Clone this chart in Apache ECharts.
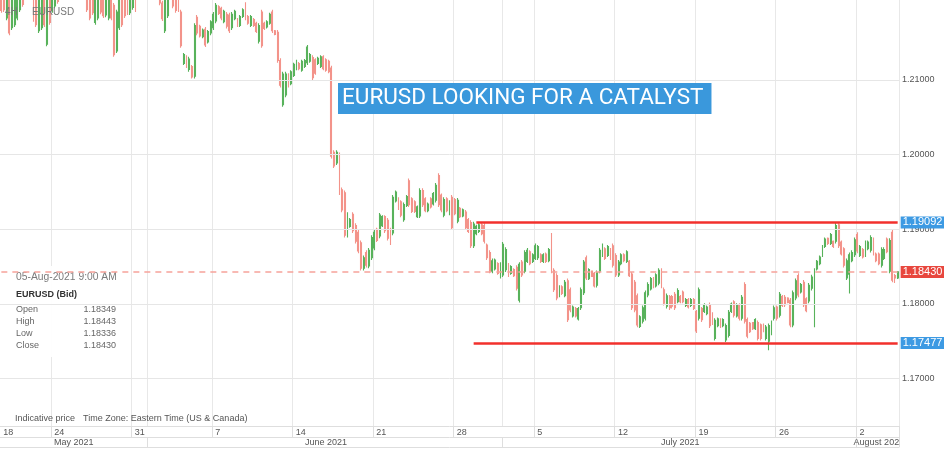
<!DOCTYPE html>
<html><head><meta charset="utf-8">
<script src="https://cdn.jsdelivr.net/npm/echarts@6/dist/echarts.min.js"></script>
<style>html,body{margin:0;padding:0;background:#fff}#c{width:944px;height:452px}</style>
</head><body><div id="c"></div>
<script>
// ---------------- data ----------------
const symbolName = 'EURUSD';
const timeframe = '4H';
const chartTitle = 'EURUSD LOOKING FOR A CATALYST';
const firstBarTime = [2021, 4, 18, 13];   // Tue 18 May 2021 13:00 (Eastern)
const barHours = 4;
const yTicks = [1.17, 1.18, 1.19, 1.20, 1.21];
const yRange = [1.16366, 1.22071];
const resistanceLevel = 1.19092;
const supportLevel = 1.17477;
const lastPrice = 1.18430;
const resistanceFrom = '2021-06-29 01:00';
const supportFrom = '2021-06-28 21:00';
const infoTime = '05-Aug-2021 9:00 AM';
const infoTitle = 'EURUSD (Bid)';
const infoNames = ['Open', 'High', 'Low', 'Close'];
const infoValues = ['1.18349', '1.18443', '1.18336', '1.18430'];
const footNote = ['Indicative price', 'Time Zone: Eastern Time (US & Canada)'];
const monthNames = ['January','February','March','April','May','June','July','August','September','October','November','December'];

// [open, close, low, high]
const bars = [
[1.2244,1.2193,1.2190,1.2247],[1.2231,1.2194,1.2191,1.2234],[1.2183,1.2244,1.2180,1.2247],[1.2231,1.2163,1.2160,1.2234],
[1.2170,1.2238,1.2167,1.2241],[1.2174,1.2231,1.2171,1.2234],[1.2183,1.2244,1.2180,1.2247],[1.2194,1.2251,1.2191,1.2254],
[1.2244,1.2201,1.2198,1.2247],[1.2217,1.2258,1.2214,1.2261],[1.2264,1.2223,1.2220,1.2267],[1.2221,1.2258,1.2218,1.2261],
[1.2238,1.2181,1.2178,1.2241],[1.2231,1.2174,1.2171,1.2234],[1.2166,1.2224,1.2163,1.2227],[1.2170,1.2231,1.2167,1.2234],
[1.2217,1.2174,1.2171,1.2220],[1.2148,1.2211,1.2145,1.2214],[1.2224,1.2177,1.2174,1.2227],[1.2193,1.2231,1.2190,1.2234],
[1.2199,1.2244,1.2196,1.2247],[1.2251,1.2205,1.2202,1.2254],[1.2214,1.2258,1.2211,1.2261],[1.2221,1.2264,1.2218,1.2267],
[1.2271,1.2226,1.2223,1.2274],[1.2223,1.2264,1.2220,1.2267],[1.2230,1.2271,1.2227,1.2274],[1.2278,1.2226,1.2223,1.2281],
[1.2271,1.2221,1.2218,1.2274],[1.2223,1.2264,1.2220,1.2267],[1.2258,1.2217,1.2214,1.2261],[1.2251,1.2213,1.2210,1.2254],
[1.2238,1.2194,1.2191,1.2241],[1.2231,1.2183,1.2180,1.2234],[1.2231,1.2190,1.2187,1.2234],[1.2177,1.2217,1.2174,1.2220],
[1.2183,1.2224,1.2180,1.2227],[1.2231,1.2191,1.2188,1.2234],[1.2224,1.2186,1.2183,1.2227],[1.2187,1.2231,1.2184,1.2234],
[1.2183,1.2231,1.2180,1.2234],[1.2217,1.2183,1.2180,1.2220],[1.2200,1.2134,1.2131,1.2203],[1.2139,1.2191,1.2136,1.2194],
[1.2170,1.2217,1.2167,1.2220],[1.2224,1.2174,1.2171,1.2227],[1.2231,1.2186,1.2183,1.2234],[1.2224,1.2190,1.2187,1.2227],
[1.2190,1.2231,1.2187,1.2234],[1.2197,1.2238,1.2194,1.2241],[1.2238,1.2194,1.2191,1.2241],[1.2214,1.2244,1.2211,1.2247],
[1.2221,1.2251,1.2218,1.2254],[1.2258,1.2223,1.2220,1.2261],[1.2226,1.2264,1.2223,1.2267],[1.2223,1.2264,1.2220,1.2267],
[1.2258,1.2221,1.2218,1.2261],[1.2217,1.2258,1.2214,1.2261],[1.2251,1.2213,1.2210,1.2254],[1.2238,1.2203,1.2200,1.2241],
[1.2203,1.2182,1.2179,1.2206],[1.2166,1.2217,1.2163,1.2220],[1.2186,1.2224,1.2183,1.2227],[1.2231,1.2213,1.2210,1.2234],
[1.2217,1.2199,1.2196,1.2220],[1.2211,1.2193,1.2190,1.2214],[1.2208,1.2194,1.2191,1.2211],[1.2191,1.2146,1.2143,1.2194],
[1.2122,1.2134,1.2120,1.2136],[1.2131,1.2118,1.2116,1.2133],[1.2114,1.2128,1.2111,1.2131],[1.2118,1.2104,1.2102,1.2120],
[1.2105,1.2173,1.2102,1.2176],
[1.2184,1.2163,1.2160,1.2187],[1.2172,1.2159,1.2157,1.2174],[1.2158,1.2167,1.2156,1.2169],[1.2168,1.2147,1.2144,1.2171],
[1.2151,1.2165,1.2149,1.2167],[1.2163,1.2178,1.2160,1.2180],[1.2170,1.2188,1.2167,1.2191],[1.2179,1.2200,1.2176,1.2203],
[1.2198,1.2189,1.2187,1.2200],[1.2196,1.2183,1.2180,1.2198],[1.2178,1.2192,1.2176,1.2194],[1.2188,1.2172,1.2169,1.2191],
[1.2187,1.2166,1.2163,1.2190],[1.2170,1.2188,1.2167,1.2191],[1.2182,1.2192,1.2180,1.2194],[1.2181,1.2173,1.2171,1.2183],
[1.2173,1.2185,1.2171,1.2187],[1.2185,1.2194,1.2183,1.2196],[1.2201,1.2183,1.2180,1.2204],[1.2185,1.2176,1.2174,1.2187],
[1.2173,1.2185,1.2171,1.2187],[1.2181,1.2173,1.2171,1.2183],[1.2176,1.2165,1.2163,1.2178],[1.2152,1.2173,1.2149,1.2176],
[1.2191,1.2146,1.2143,1.2194],[1.2176,1.2169,1.2167,1.2178],[1.2171,1.2178,1.2169,1.2180],[1.2176,1.2188,1.2174,1.2190],
[1.2191,1.2166,1.2163,1.2194],[1.2166,1.2161,1.2160,1.2167],[1.2164,1.2126,1.2123,1.2167],[1.2126,1.2093,1.2090,1.2129],
[1.2067,1.2108,1.2064,1.2111],[1.2080,1.2108,1.2077,1.2111],[1.2107,1.2092,1.2090,1.2109],[1.2095,1.2111,1.2093,1.2113],
[1.2106,1.2121,1.2104,1.2123],[1.2115,1.2125,1.2113,1.2127],[1.2122,1.2115,1.2113,1.2124],[1.2113,1.2125,1.2111,1.2127],
[1.2118,1.2126,1.2116,1.2128],[1.2123,1.2144,1.2120,1.2147],[1.2125,1.2134,1.2123,1.2136],[1.2130,1.2103,1.2100,1.2133],
[1.2127,1.2109,1.2107,1.2129],[1.2122,1.2129,1.2120,1.2131],[1.2118,1.2131,1.2116,1.2133],[1.2131,1.2115,1.2113,1.2133],
[1.2127,1.2113,1.2111,1.2129],[1.2125,1.2111,1.2109,1.2127],
[1.2116,1.1998,1.1995,1.2119],[1.2003,1.1985,1.1982,1.2006],[1.1989,1.2003,1.1986,1.2006],[1.2000,1.1949,1.1946,1.2003],
[1.1953,1.1926,1.1923,1.1956],[1.1949,1.1892,1.1889,1.1952],[1.1892,1.1920,1.1889,1.1923],[1.1904,1.1913,1.1902,1.1915],
[1.1920,1.1898,1.1895,1.1923],[1.1905,1.1884,1.1881,1.1908],[1.1896,1.1871,1.1868,1.1899],[1.1882,1.1848,1.1845,1.1885],
[1.1848,1.1862,1.1845,1.1865],[1.1869,1.1852,1.1849,1.1872],[1.1851,1.1872,1.1848,1.1875],[1.1862,1.1889,1.1859,1.1892],
[1.1875,1.1896,1.1872,1.1899],[1.1900,1.1885,1.1883,1.1902],[1.1891,1.1919,1.1888,1.1922],[1.1905,1.1917,1.1903,1.1919],
[1.1917,1.1898,1.1895,1.1919],[1.1912,1.1888,1.1885,1.1915],[1.1900,1.1882,1.1879,1.1902],[1.1895,1.1943,1.1892,1.1946],
[1.1938,1.1950,1.1936,1.1952],[1.1941,1.1928,1.1926,1.1943],[1.1937,1.1919,1.1916,1.1939],[1.1913,1.1933,1.1910,1.1936],
[1.1932,1.1944,1.1930,1.1946],[1.1965,1.1933,1.1930,1.1968],[1.1941,1.1924,1.1922,1.1943],[1.1937,1.1924,1.1922,1.1939],
[1.1917,1.1930,1.1915,1.1932],[1.1918,1.1952,1.1915,1.1955],[1.1952,1.1933,1.1930,1.1955],[1.1941,1.1925,1.1923,1.1943],
[1.1925,1.1934,1.1923,1.1936],[1.1941,1.1930,1.1928,1.1943],[1.1934,1.1948,1.1932,1.1950],[1.1939,1.1959,1.1936,1.1962],
[1.1972,1.1933,1.1930,1.1975],[1.1946,1.1926,1.1923,1.1948],[1.1919,1.1940,1.1916,1.1943],[1.1941,1.1925,1.1923,1.1943],
[1.1921,1.1937,1.1919,1.1939],[1.1943,1.1902,1.1899,1.1946],[1.1940,1.1921,1.1919,1.1942],
[1.1911,1.1939,1.1908,1.1942],[1.1928,1.1917,1.1915,1.1930],[1.1918,1.1926,1.1916,1.1928],[1.1923,1.1902,1.1899,1.1926],
[1.1913,1.1897,1.1895,1.1915],[1.1909,1.1878,1.1875,1.1912],[1.1878,1.1907,1.1875,1.1910],[1.1894,1.1904,1.1892,1.1906],
[1.1897,1.1906,1.1895,1.1908],[1.1906,1.1894,1.1892,1.1908],[1.1905,1.1884,1.1881,1.1908],[1.1879,1.1862,1.1859,1.1881],
[1.1869,1.1844,1.1841,1.1872],[1.1844,1.1858,1.1841,1.1861],[1.1847,1.1859,1.1845,1.1861],[1.1854,1.1841,1.1839,1.1856],
[1.1837,1.1853,1.1834,1.1856],[1.1839,1.1880,1.1836,1.1883],[1.1846,1.1873,1.1843,1.1876],[1.1853,1.1838,1.1836,1.1855],
[1.1841,1.1850,1.1839,1.1852],[1.1846,1.1838,1.1836,1.1848],[1.1849,1.1821,1.1818,1.1852],[1.1805,1.1853,1.1802,1.1856],
[1.1856,1.1839,1.1836,1.1859],[1.1844,1.1869,1.1841,1.1872],[1.1857,1.1872,1.1855,1.1875],[1.1870,1.1854,1.1852,1.1872],
[1.1857,1.1866,1.1855,1.1868],[1.1861,1.1878,1.1859,1.1881],[1.1862,1.1877,1.1859,1.1879],[1.1866,1.1857,1.1855,1.1868],
[1.1857,1.1866,1.1855,1.1868],[1.1867,1.1857,1.1855,1.1869],[1.1858,1.1873,1.1856,1.1875],[1.1892,1.1844,1.1841,1.1895],
[1.1845,1.1819,1.1816,1.1848],[1.1838,1.1808,1.1805,1.1841],[1.1811,1.1823,1.1809,1.1825],[1.1823,1.1814,1.1812,1.1825],
[1.1811,1.1829,1.1809,1.1832],[1.1831,1.1779,1.1776,1.1834],[1.1819,1.1792,1.1789,1.1822],[1.1784,1.1796,1.1782,1.1798],
[1.1794,1.1784,1.1782,1.1796],[1.1780,1.1794,1.1778,1.1796],[1.1795,1.1819,1.1792,1.1822],[1.1815,1.1856,1.1812,1.1859],
[1.1862,1.1835,1.1832,1.1865],[1.1834,1.1846,1.1832,1.1848],[1.1844,1.1837,1.1836,1.1845],[1.1841,1.1824,1.1822,1.1843],
[1.1825,1.1842,1.1822,1.1845],[1.1844,1.1872,1.1841,1.1875],[1.1865,1.1879,1.1863,1.1881],[1.1874,1.1861,1.1859,1.1876],
[1.1865,1.1877,1.1863,1.1879],[1.1873,1.1861,1.1859,1.1875],[1.1878,1.1852,1.1849,1.1881],[1.1865,1.1839,1.1836,1.1868],
[1.1839,1.1856,1.1836,1.1859],[1.1854,1.1866,1.1852,1.1868],[1.1866,1.1858,1.1856,1.1868],[1.1857,1.1870,1.1855,1.1872],
[1.1857,1.1838,1.1836,1.1859],[1.1840,1.1795,1.1792,1.1843],[1.1829,1.1792,1.1789,1.1832],[1.1811,1.1772,1.1769,1.1814],
[1.1770,1.1783,1.1768,1.1785],[1.1777,1.1795,1.1774,1.1798],[1.1781,1.1815,1.1778,1.1818],[1.1812,1.1826,1.1809,1.1829],
[1.1820,1.1834,1.1818,1.1836],[1.1834,1.1823,1.1821,1.1836],[1.1824,1.1839,1.1822,1.1841],[1.1828,1.1845,1.1825,1.1848],
[1.1845,1.1824,1.1821,1.1848],[1.1819,1.1801,1.1798,1.1822],[1.1797,1.1811,1.1794,1.1814],[1.1810,1.1795,1.1792,1.1812],
[1.1810,1.1797,1.1794,1.1812],[1.1813,1.1795,1.1792,1.1816],[1.1803,1.1818,1.1801,1.1821],[1.1810,1.1803,1.1801,1.1812],
[1.1816,1.1803,1.1801,1.1818],[1.1798,1.1806,1.1796,1.1808],[1.1806,1.1796,1.1794,1.1808],[1.1798,1.1806,1.1796,1.1808],
[1.1806,1.1794,1.1792,1.1808],[1.1790,1.1764,1.1761,1.1792],[1.1781,1.1819,1.1778,1.1822],[1.1794,1.1779,1.1776,1.1796],
[1.1790,1.1799,1.1788,1.1801],[1.1787,1.1796,1.1785,1.1798],[1.1799,1.1771,1.1768,1.1802],[1.1787,1.1774,1.1772,1.1789],
[1.1754,1.1778,1.1751,1.1781],[1.1771,1.1780,1.1769,1.1782],[1.1779,1.1770,1.1768,1.1781],[1.1771,1.1779,1.1769,1.1781],
[1.1752,1.1771,1.1749,1.1774],[1.1758,1.1789,1.1755,1.1792],[1.1790,1.1800,1.1788,1.1802],[1.1803,1.1785,1.1782,1.1805],
[1.1784,1.1799,1.1782,1.1801],[1.1799,1.1781,1.1778,1.1801],[1.1781,1.1809,1.1778,1.1812],[1.1826,1.1777,1.1774,1.1829],
[1.1779,1.1757,1.1754,1.1782],[1.1774,1.1763,1.1761,1.1776],[1.1775,1.1767,1.1765,1.1776],[1.1767,1.1779,1.1765,1.1781],
[1.1775,1.1754,1.1751,1.1778],[1.1772,1.1754,1.1751,1.1774],[1.1772,1.1764,1.1762,1.1774],[1.1754,1.1769,1.1751,1.1772],
[1.1750,1.1771,1.1738,1.1774],[1.1761,1.1776,1.1758,1.1778],[1.1781,1.1795,1.1778,1.1798],[1.1796,1.1781,1.1778,1.1798],
[1.1785,1.1813,1.1782,1.1816],
[1.1810,1.1798,1.1796,1.1812],[1.1809,1.1799,1.1796,1.1812],[1.1808,1.1802,1.1801,1.1809],[1.1805,1.1772,1.1769,1.1808],
[1.1772,1.1815,1.1769,1.1818],[1.1808,1.1831,1.1805,1.1834],[1.1838,1.1812,1.1809,1.1841],[1.1816,1.1826,1.1814,1.1828],
[1.1829,1.1799,1.1796,1.1832],[1.1807,1.1791,1.1789,1.1809],[1.1804,1.1825,1.1801,1.1828],[1.1821,1.1836,1.1818,1.1839],
[1.1772,1.1845,1.1769,1.1848],[1.1847,1.1857,1.1845,1.1859],[1.1854,1.1863,1.1852,1.1865],[1.1865,1.1877,1.1863,1.1879],
[1.1877,1.1887,1.1875,1.1889],[1.1888,1.1881,1.1879,1.1889],[1.1881,1.1893,1.1879,1.1895],[1.1884,1.1877,1.1875,1.1885],
[1.1884,1.1905,1.1881,1.1909],[1.1906,1.1878,1.1875,1.1908],[1.1883,1.1867,1.1865,1.1885],[1.1874,1.1852,1.1849,1.1876],
[1.1835,1.1858,1.1832,1.1861],[1.1840,1.1866,1.1814,1.1869],[1.1858,1.1869,1.1856,1.1872],[1.1866,1.1886,1.1863,1.1889],
[1.1893,1.1871,1.1868,1.1896],[1.1865,1.1877,1.1863,1.1879],[1.1873,1.1863,1.1861,1.1875],[1.1866,1.1882,1.1863,1.1885],
[1.1874,1.1883,1.1872,1.1885],[1.1872,1.1889,1.1869,1.1892],[1.1887,1.1868,1.1865,1.1889],[1.1867,1.1858,1.1856,1.1869],
[1.1867,1.1854,1.1852,1.1869],[1.1852,1.1873,1.1849,1.1876],[1.1861,1.1873,1.1859,1.1876],[1.1887,1.1870,1.1868,1.1889],
[1.1844,1.1885,1.1841,1.1888],[1.1896,1.1832,1.1829,1.1899],[1.1838,1.1835,1.1828,1.1840],[1.18349,1.18430,1.18336,1.18443]
];

// ---------------- derived time categories ----------------
const UP = '#58b25b', DOWN = '#f3938a';
const FONT = '"Liberation Sans", Arial, Helvetica, sans-serif';
const pad = n => String(n).padStart(2, '0');
function barTimes(n) {
  const out = [];
  let t = Date.UTC(firstBarTime[0], firstBarTime[1], firstBarTime[2], firstBarTime[3]);
  while (out.length < n) {
    const d = new Date(t), wd = d.getUTCDay(), h = d.getUTCHours();
    const closed = (wd === 5 && h >= 17) || wd === 6 || (wd === 0 && h < 17);
    if (!closed) out.push(t);
    t += barHours * 3600e3;
  }
  return out;
}
const times = barTimes(bars.length);
const categories = times.map(t => { const d = new Date(t); return d.getUTCFullYear() + '-' + pad(d.getUTCMonth() + 1) + '-' + pad(d.getUTCDate()) + ' ' + pad(d.getUTCHours()) + ':00'; });
const sessions = times.map(t => new Date(t + 7 * 3600e3)); // trading day begins 17:00 ET
const isWeekStart = i => i > 0 && sessions[i].getUTCDay() === 1 && sessions[i - 1].getUTCDay() !== 1;
const isMonthStart = i => i > 0 && sessions[i].getUTCMonth() !== sessions[i - 1].getUTCMonth();
const monthCenters = {};
(function () {
  let s = 0;
  for (let i = 1; i <= sessions.length; i++) {
    if (i === sessions.length || isMonthStart(i)) {
      const c = Math.round((s + i - 1) / 2);
      const d = sessions[s];
      monthCenters[c] = monthNames[d.getUTCMonth()] + ' ' + d.getUTCFullYear();
      s = i;
    }
  }
})();
const lastCat = categories[categories.length - 1];
const axisGray = '#dedede';

const levelLabel = (bg) => ({
  show: true, position: 'end', distance: 3, formatter: p => p.value.toFixed(5),
  backgroundColor: bg, color: '#fff', fontSize: 11, fontFamily: FONT, padding: [1, 2, 0, 2], lineHeight: 11
});

const chart = echarts.init(document.getElementById('c'), null, { renderer: 'canvas' });
chart.setOption({
  animation: false,
  backgroundColor: '#fff',
  title: {
    text: chartTitle, left: 338, top: 83, padding: [4, 8, 4, 4], backgroundColor: '#3a98dc',
    textStyle: { color: '#fff', fontSize: 22.5, fontWeight: 'normal', fontFamily: 'Roboto', lineHeight: 23 }
  },
  grid: { left: 0, right: 45, top: 0, bottom: 26, containLabel: false, outerBoundsMode: 'none' },
  xAxis: [
    {
      type: 'category', data: categories, position: 'bottom', boundaryGap: true,
      axisLine: { show: true, lineStyle: { color: axisGray } },
      axisTick: { show: true, interval: i => isWeekStart(i), length: 11, lineStyle: { color: axisGray } },
      axisLabel: {
        interval: i => i === 0 || isWeekStart(i), formatter: (v, i) => String(sessions[i].getUTCDate()),
        align: 'left', margin: 2, padding: [0, 0, 0, 2], color: '#555', fontSize: 9, fontFamily: FONT
      },
      splitLine: { show: true, interval: i => isWeekStart(i) || isMonthStart(i), lineStyle: { color: '#e8e8e8', width: 1 } }
    },
    {
      type: 'category', data: categories, position: 'bottom', offset: 11, boundaryGap: true,
      axisLine: { show: true, lineStyle: { color: axisGray } },
      axisTick: { show: true, interval: i => isMonthStart(i), length: 10, lineStyle: { color: axisGray } },
      axisLabel: {
        interval: i => monthCenters[i] !== undefined, formatter: (v, i) => monthCenters[i] || '',
        margin: 1, color: '#555', fontSize: 9, fontFamily: FONT
      },
      splitLine: { show: false }
    },
    {
      type: 'category', data: categories, position: 'bottom', offset: 21, boundaryGap: true,
      axisLine: { show: true, lineStyle: { color: axisGray } },
      axisTick: { show: false }, axisLabel: { show: false }, splitLine: { show: false }
    }
  ],
  yAxis: {
    type: 'value', position: 'right', scale: true, min: yRange[0], max: yRange[1],
    axisLine: { show: false }, axisTick: { show: false }, splitLine: { show: false },
    axisLabel: { customValues: yTicks, formatter: v => v.toFixed(5), color: '#555', fontSize: 9, fontFamily: FONT, margin: 3 }
  },
  series: [
    {
      type: 'line', data: [], z: 0, silent: true,
      markLine: {
        silent: true, symbol: 'none', animation: false, label: { show: false },
        lineStyle: { color: '#e6e6e6', width: 1, type: 'solid' },
        data: yTicks.map(v => ({ yAxis: v }))
      }
    },
    {
      type: 'candlestick', data: bars, barWidth: 1.4, z: 2,
      itemStyle: { color: UP, color0: DOWN, borderColor: UP, borderColor0: DOWN, borderWidth: 1.1 }
    },
    {
      type: 'line', data: [], z: 5, silent: true,
      markLine: {
        silent: true, symbol: 'none', animation: false,
        data: [
          [{ coord: [categories[0], lastPrice], value: lastPrice, lineStyle: { color: '#f6a29b', width: 1.5, type: [6, 5] }, label: levelLabel('#e8473e') },
           { coord: [lastCat, lastPrice] }],
          [{ coord: [resistanceFrom, resistanceLevel], value: resistanceLevel, lineStyle: { color: '#f2302c', width: 2.5, type: 'solid' }, label: levelLabel('#3d9ae3') },
           { coord: [lastCat, resistanceLevel] }],
          [{ coord: [supportFrom, supportLevel], value: supportLevel, lineStyle: { color: '#f2302c', width: 2.5, type: 'solid' }, label: levelLabel('#3d9ae3') },
           { coord: [lastCat, supportLevel] }]
        ]
      }
    }
  ],
  graphic: [
    { type: 'text', x: 5, y: 12, z: 6, style: { text: timeframe, fill: '#777', font: '10px ' + FONT, verticalAlign: 'middle' } },
    { type: 'text', x: 32, y: 12, z: 6, style: { text: symbolName, fill: '#777', font: '10px ' + FONT, verticalAlign: 'middle' } },
    { type: 'rect', z: 1, shape: { x: 13, y: 266, width: 109, height: 91 }, style: { fill: 'rgba(255,255,255,0.94)' } },
    { type: 'text', x: 16, y: 277, z: 3, style: { text: infoTime, fill: '#7a7a7a', font: '10.3px ' + FONT, verticalAlign: 'middle' } },
    { type: 'text', x: 16, y: 295, z: 3, style: { text: infoTitle, fill: '#333', font: 'bold 9px ' + FONT, verticalAlign: 'middle' } },
    ...infoNames.map((n, k) => ({ type: 'text', x: 16, y: 310 + k * 12, z: 3, style: { text: n, fill: '#666', font: '9px ' + FONT, verticalAlign: 'middle' } })),
    ...infoValues.map((v, k) => ({ type: 'text', x: 116, y: 310 + k * 12, z: 3, style: { text: v, fill: '#666', font: '9px ' + FONT, align: 'right', verticalAlign: 'middle' } })),
    { type: 'text', x: 15, y: 419, z: 3, style: { text: footNote[0], fill: '#555', font: '9px ' + FONT, verticalAlign: 'middle' } },
    { type: 'text', x: 83, y: 419, z: 3, style: { text: footNote[1], fill: '#555', font: '9px ' + FONT, verticalAlign: 'middle' } },
    { type: 'rect', z: 100, shape: { x: 900, y: 436, width: 44, height: 16 }, style: { fill: '#fff' } }
  ]
});
</script></body></html>
